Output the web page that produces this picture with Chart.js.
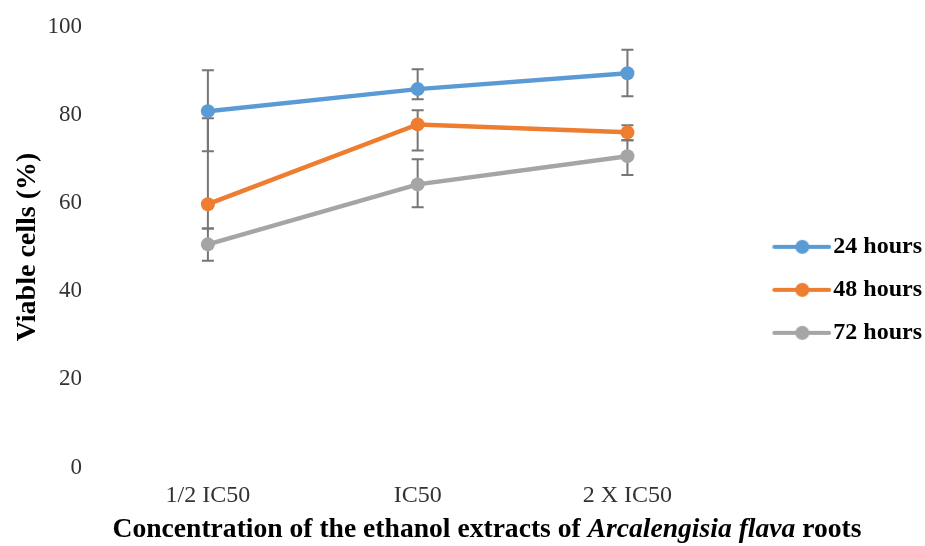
<!DOCTYPE html>
<html>
<head>
<meta charset="utf-8">
<script src="https://cdn.jsdelivr.net/npm/chart.js@4/dist/chart.umd.min.js"></script>
<style>
  html, body { margin: 0; padding: 0; background: #fff; }
  #wrap { width: 925px; height: 546px; }
</style>
</head>
<body>
<div id="wrap"><canvas id="viabilityChart"></canvas></div>
<script>
const concentrations = ['1/2 IC50', 'IC50', '2 X IC50'];
const yTicks = [0, 20, 40, 60, 80, 100];

const seriesNames = ['24 hours', '48 hours', '72 hours'];
const hours24 = [80.8, 85.8, 89.4];
const hours48 = [59.7, 77.8, 76.0];
const hours72 = [50.6, 64.2, 70.6];

// error bar ends (upper / lower)
const hours24Hi = [90.1, 90.3, 94.7];
const hours24Lo = [71.7, 83.5, 84.2];
const hours48Hi = [79.2, 81.0, 77.6];
const hours48Lo = [54.2, 71.9, 74.2];
const hours72Hi = [54.2, 69.9, 74.2];
const hours72Lo = [46.9, 59.0, 66.3];

const colors = ['#5b9bd5', '#ed7d31', '#a5a5a5'];
const serif = "'Liberation Serif', 'Times New Roman', serif";

// legend marker: line with a dot, offset to the right inside a wider canvas
function legendIcon(color) {
  const c = document.createElement('canvas');
  c.width = 90; c.height = 16;
  const g = c.getContext('2d');
  g.strokeStyle = color;
  g.lineWidth = 4;
  g.lineCap = 'round';
  g.beginPath(); g.moveTo(33, 8); g.lineTo(88, 8); g.stroke();
  g.fillStyle = color;
  g.beginPath(); g.arc(61, 8, 7, 0, Math.PI * 2); g.fill();
  return c;
}
const icons = colors.map(legendIcon);

const errorBars = {
  id: 'errorBars',
  beforeDatasetsDraw(chart) {
    const ctx = chart.ctx;
    const x = chart.scales.x, y = chart.scales.y;
    ctx.save();
    ctx.strokeStyle = '#767676';
    ctx.lineWidth = 2;
    chart.data.datasets.forEach(ds => {
      ds.errHi.forEach((hi, i) => {
        const px = x.getPixelForValue(i);
        const top = y.getPixelForValue(hi);
        const bot = y.getPixelForValue(ds.errLo[i]);
        ctx.beginPath();
        ctx.moveTo(px, top); ctx.lineTo(px, bot);
        ctx.moveTo(px - 6, top); ctx.lineTo(px + 6, top);
        ctx.moveTo(px - 6, bot); ctx.lineTo(px + 6, bot);
        ctx.stroke();
      });
    });
    ctx.restore();
  }
};

// x axis title with the italic species name
const xTitle = {
  id: 'xTitle',
  afterDraw(chart) {
    const ctx = chart.ctx;
    const parts = [
      ['Concentration of the ethanol extracts of ', 'bold 27.6px ' + serif],
      ['Arcalengisia flava', 'italic bold 27.6px ' + serif],
      [' roots', 'bold 27.6px ' + serif]
    ];
    ctx.save();
    ctx.fillStyle = '#000';
    ctx.textBaseline = 'middle';
    let total = 0;
    parts.forEach(p => { ctx.font = p[1]; total += ctx.measureText(p[0]).width; });
    let px = 487 - total / 2;
    parts.forEach(p => {
      ctx.font = p[1];
      ctx.fillText(p[0], px, 530);
      px += ctx.measureText(p[0]).width;
    });
    ctx.restore();
  }
};

const ctx = document.getElementById('viabilityChart').getContext('2d');
const chart = new Chart(ctx, {
  type: 'line',
  data: {
    labels: concentrations,
    datasets: [
      { label: seriesNames[0], data: hours24, errHi: hours24Hi, errLo: hours24Lo },
      { label: seriesNames[1], data: hours48, errHi: hours48Hi, errLo: hours48Lo },
      { label: seriesNames[2], data: hours72, errHi: hours72Hi, errLo: hours72Lo }
    ].map((d, i) => Object.assign(d, {
      borderColor: colors[i],
      backgroundColor: colors[i],
      borderWidth: 4.5,
      pointRadius: 7,
      pointHoverRadius: 7,
      pointBorderWidth: 0,
      tension: 0
    }))
  },
  options: {
    responsive: true,
    maintainAspectRatio: false,
    animation: false,
    layout: { padding: { top: 26.5, right: -7, bottom: 0, left: 11 } },
    plugins: {
      tooltip: { enabled: false },
      legend: {
        position: 'right',
        title: { display: true, text: '', padding: { top: 3, bottom: 3 }, font: { size: 1 } },
        labels: {
          usePointStyle: true,
          pointStyleWidth: 70,
          padding: 19,
          color: '#000',
          font: { family: serif, size: 24, weight: 'bold' },
          generateLabels(chart) {
            return Chart.defaults.plugins.legend.labels.generateLabels(chart).map((l, i) => {
              l.pointStyle = icons[i];
              return l;
            });
          }
        }
      }
    },
    scales: {
      x: {
        offset: true,
        afterFit(scale) { scale.height = 78.5; },
        grid: { display: false, drawTicks: false },
        border: { display: false },
        ticks: { color: '#333', padding: 14, font: { family: serif, size: 24 } }
      },
      y: {
        min: 0,
        max: 100,
        afterBuildTicks(axis) { axis.ticks = yTicks.map(v => ({ value: v })); },
        afterFit(scale) {
          scale.width = 92;
          scale.paddingTop = 0;
          scale.paddingBottom = 0;
        },
        grid: { display: false, drawTicks: false },
        border: { display: false },
        ticks: { color: '#333', padding: 21, font: { family: serif, size: 23 } },
        title: {
          display: true,
          text: 'Viable cells (%)',
          color: '#000',
          padding: { top: 0, bottom: 3 },
          font: { family: serif, size: 28, weight: 'bold' }
        }
      }
    }
  },
  plugins: [errorBars, xTitle]
});
</script>
</body>
</html>
